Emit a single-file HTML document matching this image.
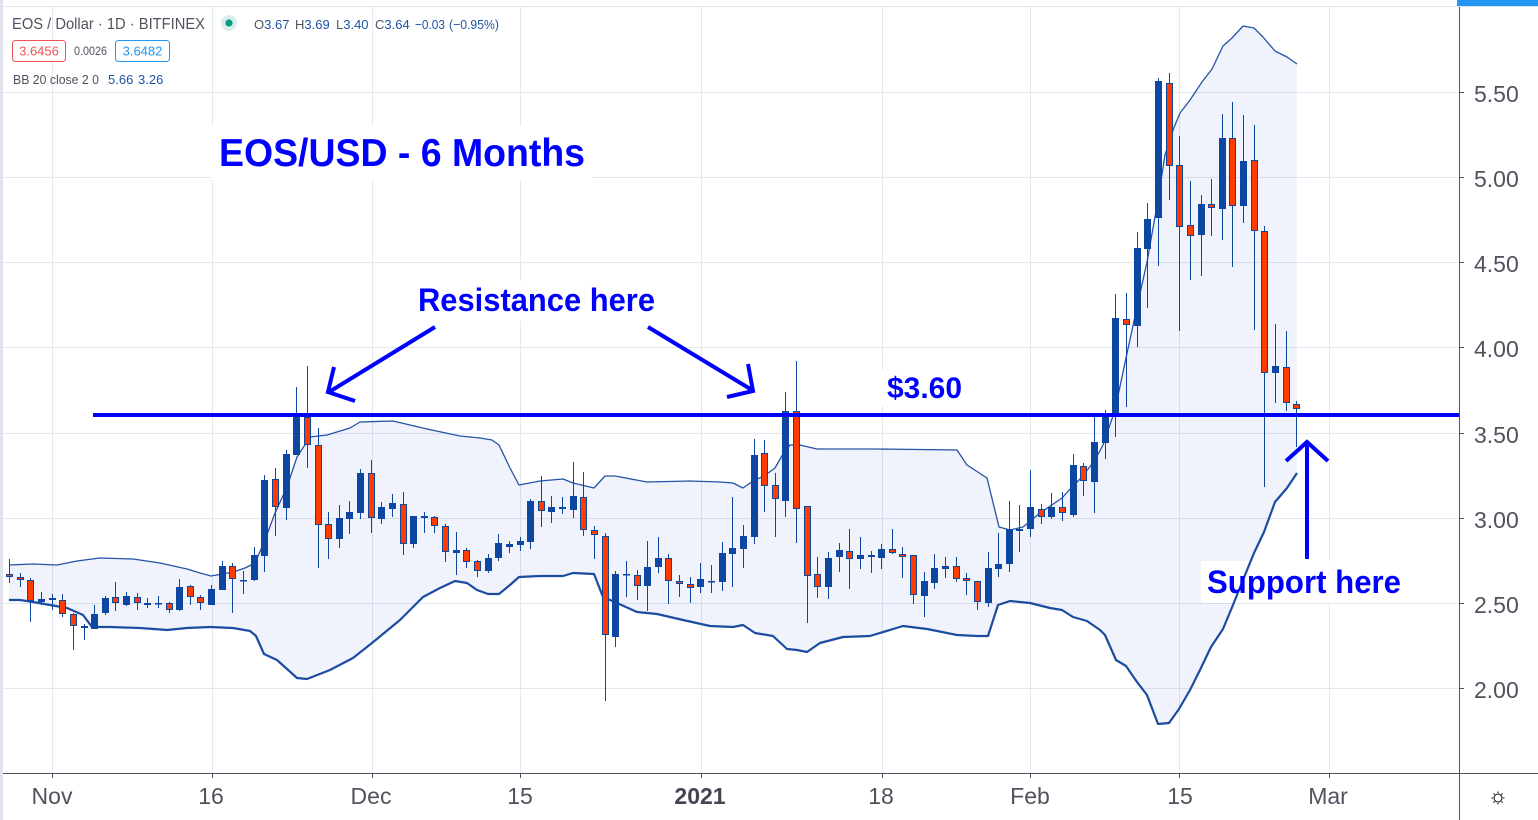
<!DOCTYPE html>
<html><head><meta charset="utf-8"><style>
html,body{margin:0;padding:0;background:#fff;}
svg{display:block;}
</style></head><body>
<svg width="1538" height="820" viewBox="0 0 1538 820" xmlns="http://www.w3.org/2000/svg" font-family="'Liberation Sans', sans-serif">
<rect x="0" y="0" width="1538" height="820" fill="#fff"/>
<rect x="0" y="0" width="3" height="820" fill="#e0e3eb"/>
<line x1="0" y1="6.5" x2="1538" y2="6.5" stroke="#e0e3eb" stroke-width="1"/>
<rect x="1457" y="0" width="81" height="6" fill="#2196f3"/>
<!-- grid -->
<g stroke="#e2e8f0" stroke-width="1">
<path d="M3 92.5H1459M3 177.5H1459M3 262.5H1459M3 347.5H1459M3 433.5H1459M3 518.5H1459M3 603.5H1459M3 688.5H1459"/>
<path d="M52.5 7V773M212.5 7V773M372.5 7V773M520.5 7V773M701.5 7V773M882.5 7V773M1030.5 7V773M1179.5 7V773M1329.5 7V773"/>
</g>
<!-- BB fill -->
<polygon fill="rgba(60,100,200,0.075)" points="9,565 33,564 57,565 77,561 100,558 133,559 160,563 187,569 200,573 211,576 233,572 245,568 255,563 265,540 275,513 287,487 297,457 310,437 327,435 350,428 360,422 393,421 427,429 460,436 480,438 492,440 499,445 510,468 519,485 540,481 563,479 573,483 594,488 605,476 615,476 647,482 690,481 720,482 733,483 743,488 753,481 764,476 775,468 783,454 790,445 800,445 817,449 877,449 957,450 967,465 987,478 999,527 1010,530 1023,527 1040,513 1062,498 1072,487 1082,477 1095,460 1103,445 1115,410 1126,358 1137,307 1147,262 1158,200 1165,155 1173,130 1180,113 1190,100 1202,82 1212,69 1223,46 1232,38 1243,26 1254,28 1263,37 1275,51 1287,57 1297,64 1297,473 1287,488 1275,502 1264,532 1254,553 1243,580 1233,605 1223,629 1211,647 1200,670 1190,690 1179,709 1169,723 1158,724 1147,695 1137,682 1126,666 1116,660 1105,635 1100,630 1087,621 1073,617 1062,610 1050,608 1030,603 1010,601 998,605 988,636 977,636 957,635 927,629 903,626 870,636 843,637 820,643 807,652 797,650 787,649 773,636 755,633 743,625 733,627 710,626 683,620 657,614 637,612 617,603 603,597 594,574 573,573 563,576 540,576 519,577 510,585 499,594 488,594 477,590 467,583 455,581 440,588 423,597 400,620 372,643 353,658 330,670 307,679 297,678 277,660 264,654 256,636 250,631 233,628 210,627 187,628 167,630 140,628 110,627 92,627 83,615 67,608 50,605 33,602 20,600 9,600"/>
<!-- annotation white boxes -->
<rect x="211" y="126" width="381" height="54" fill="#fff"/>
<rect x="411" y="281" width="251" height="40" fill="#fff"/>
<rect x="882" y="370" width="83" height="36" fill="#fff"/>
<rect x="1201" y="561" width="207" height="42" fill="#fff"/>
<!-- BB lines -->
<polyline fill="none" stroke="#2553a3" stroke-width="1.3" stroke-linejoin="round" points="9,565 33,564 57,565 77,561 100,558 133,559 160,563 187,569 200,573 211,576 233,572 245,568 255,563 265,540 275,513 287,487 297,457 310,437 327,435 350,428 360,422 393,421 427,429 460,436 480,438 492,440 499,445 510,468 519,485 540,481 563,479 573,483 594,488 605,476 615,476 647,482 690,481 720,482 733,483 743,488 753,481 764,476 775,468 783,454 790,445 800,445 817,449 877,449 957,450 967,465 987,478 999,527 1010,530 1023,527 1040,513 1062,498 1072,487 1082,477 1095,460 1103,445 1115,410 1126,358 1137,307 1147,262 1158,200 1165,155 1173,130 1180,113 1190,100 1202,82 1212,69 1223,46 1232,38 1243,26 1254,28 1263,37 1275,51 1287,57 1297,64"/>
<polyline fill="none" stroke="#1b4c9f" stroke-width="2.2" stroke-linejoin="round" points="9,600 20,600 33,602 50,605 67,608 83,615 92,627 110,627 140,628 167,630 187,628 210,627 233,628 250,631 256,636 264,654 277,660 297,678 307,679 330,670 353,658 372,643 400,620 423,597 440,588 455,581 467,583 477,590 488,594 499,594 510,585 519,577 540,576 563,576 573,573 594,574 603,597 617,603 637,612 657,614 683,620 710,626 733,627 743,625 755,633 773,636 787,649 797,650 807,652 820,643 843,637 870,636 903,626 927,629 957,635 977,636 988,636 998,605 1010,601 1030,603 1050,608 1062,610 1073,617 1087,621 1100,630 1105,635 1116,660 1126,666 1137,682 1147,695 1158,724 1169,723 1179,709 1190,690 1200,670 1211,647 1223,629 1233,605 1243,580 1254,553 1264,532 1275,502 1287,488 1297,473"/>
<!-- wicks -->
<path fill="none" stroke="#0d47a1" stroke-width="1" d="M9.5 559V583M20.5 573V587M30.5 578V622M41.5 592V605M52.5 594V610M62.5 594V617M73.5 613V650M84.5 624V640M94.5 605V629M105.5 596V615M115.5 582V611M126.5 592V606M137.5 593V610M147.5 598V608M158.5 596V608M169.5 602V613M179.5 579V611M190.5 585V605M200.5 595V610M211.5 585V605M222.5 561V590M232.5 563V613M243.5 571V594M254.5 547V581M264.5 475V572M275.5 468V536M286.5 450V520M296.5 387V455M307.5 366V468M318.5 428V568M328.5 512V559M339.5 505V548M349.5 501V534M360.5 469V519M371.5 460V533M381.5 502V524M392.5 494V517M403.5 492V555M413.5 516V548M424.5 512V533M434.5 516V533M445.5 524V562M456.5 532V575M466.5 548V568M477.5 560V577M488.5 554V573M498.5 534V561M509.5 541V553M520.5 537V551M530.5 499V549M541.5 476V527M551.5 496V523M562.5 497V514M573.5 462V518M583.5 472V536M594.5 526V559M605.5 533V701M615.5 571V647M626.5 561V597M637.5 570V600M647.5 541V611M658.5 537V573M668.5 554V604M679.5 575V597M690.5 577V603M700.5 563V593M711.5 565V593M722.5 542V591M732.5 497V587M743.5 525V568M754.5 439V544M764.5 440V512M775.5 473V537M785.5 392V517M796.5 361V543M807.5 506V623M817.5 557V598M828.5 552V599M839.5 543V572M849.5 529V589M860.5 537V569M871.5 551V573M881.5 544V569M892.5 529V554M902.5 547V578M913.5 555V604M924.5 572V617M934.5 554V589M945.5 557V578M956.5 557V582M966.5 573V595M977.5 581V610M988.5 552V607M998.5 533V577M1009.5 501V572M1019.5 505V552M1030.5 470V537M1041.5 504V524M1051.5 493V519M1062.5 492V521M1073.5 454V517M1083.5 463V496M1094.5 417V513M1105.5 410V459M1115.5 294V437M1126.5 293V407M1137.5 232V347M1147.5 203V308M1158.5 78V266M1169.5 73V200M1179.5 136V331M1190.5 181V280M1201.5 195V276M1211.5 179V236M1222.5 114V240M1232.5 102V267M1243.5 115V223M1254.5 125V330M1264.5 226V487M1275.5 324V403M1286.5 331V411M1296.5 401V447"/>
<!-- up bodies -->
<g fill="#0d47a1">
<rect x="38" y="599" width="7" height="3"/><rect x="91" y="614" width="7" height="15"/><rect x="102" y="598" width="7" height="15"/><rect x="123" y="596" width="7" height="9"/><rect x="144" y="603" width="7" height="2"/><rect x="155" y="603" width="7" height="1.5"/><rect x="176" y="587" width="7" height="23"/><rect x="208" y="589" width="7" height="16"/><rect x="219" y="566" width="7" height="24"/><rect x="240" y="580" width="7" height="1.5"/><rect x="251" y="555" width="7" height="25"/><rect x="261" y="480" width="7" height="76"/><rect x="283" y="454" width="7" height="54"/><rect x="293" y="417" width="7" height="38"/><rect x="336" y="518" width="7" height="21"/><rect x="346" y="512" width="7" height="7"/><rect x="357" y="473" width="7" height="40"/><rect x="378" y="507" width="7" height="12"/><rect x="389" y="503" width="7" height="6"/><rect x="410" y="516" width="7" height="28"/><rect x="453" y="550" width="7" height="3"/><rect x="485" y="558" width="7" height="13"/><rect x="495" y="543" width="7" height="15"/><rect x="506" y="544" width="7" height="3"/><rect x="517" y="541" width="7" height="4"/><rect x="527" y="501" width="7" height="41"/><rect x="548" y="507" width="7" height="5"/><rect x="570" y="496" width="7" height="14"/><rect x="612" y="574" width="7" height="63"/><rect x="623" y="574" width="7" height="1.5"/><rect x="644" y="567" width="7" height="19"/><rect x="655" y="558" width="7" height="9"/><rect x="697" y="579" width="7" height="8"/><rect x="708" y="581" width="7" height="1.5"/><rect x="719" y="553" width="7" height="29"/><rect x="729" y="548" width="7" height="6"/><rect x="740" y="536" width="7" height="13"/><rect x="751" y="455" width="7" height="82"/><rect x="782" y="411" width="7" height="90"/><rect x="825" y="558" width="7" height="29"/><rect x="836" y="550" width="7" height="7"/><rect x="857" y="555" width="7" height="4"/><rect x="878" y="549" width="7" height="9"/><rect x="921" y="581" width="7" height="15"/><rect x="931" y="568" width="7" height="15"/><rect x="942" y="566" width="7" height="3"/><rect x="985" y="568" width="7" height="35"/><rect x="995" y="564" width="7" height="5"/><rect x="1006" y="529" width="7" height="35"/><rect x="1016" y="529" width="7" height="2"/><rect x="1027" y="507" width="7" height="22"/><rect x="1048" y="507" width="7" height="10"/><rect x="1070" y="465" width="7" height="50"/><rect x="1091" y="442" width="7" height="40"/><rect x="1102" y="416" width="7" height="27"/><rect x="1112" y="318" width="7" height="97"/><rect x="1134" y="248" width="7" height="78"/><rect x="1144" y="219" width="7" height="30"/><rect x="1155" y="81" width="7" height="137"/><rect x="1198" y="204" width="7" height="31"/><rect x="1219" y="138" width="7" height="71"/><rect x="1240" y="161" width="7" height="45"/><rect x="1272" y="366" width="7" height="7"/>
</g>
<!-- down bodies -->
<g fill="#ff3b00" stroke="#0d47a1" stroke-width="1">
<rect x="6.5" y="574.5" width="6" height="2"/><rect x="17.5" y="577.5" width="6" height="2"/><rect x="27.5" y="580.5" width="6" height="20"/><rect x="49.5" y="598.5" width="6" height="1"/><rect x="59.5" y="600.5" width="6" height="13"/><rect x="70.5" y="614.5" width="6" height="11"/><rect x="81.5" y="626.5" width="6" height="1"/><rect x="112.5" y="597.5" width="6" height="5"/><rect x="134.5" y="597.5" width="6" height="5"/><rect x="166.5" y="603.5" width="6" height="6"/><rect x="187.5" y="586.5" width="6" height="10"/><rect x="197.5" y="597.5" width="6" height="5"/><rect x="229.5" y="566.5" width="6" height="12"/><rect x="272.5" y="479.5" width="6" height="27"/><rect x="304.5" y="417.5" width="6" height="27"/><rect x="315.5" y="445.5" width="6" height="79"/><rect x="325.5" y="524.5" width="6" height="14"/><rect x="368.5" y="473.5" width="6" height="44"/><rect x="400.5" y="504.5" width="6" height="39"/><rect x="421.5" y="516.5" width="6" height="1"/><rect x="431.5" y="517.5" width="6" height="8"/><rect x="442.5" y="526.5" width="6" height="25"/><rect x="463.5" y="550.5" width="6" height="11"/><rect x="474.5" y="561.5" width="6" height="9"/><rect x="538.5" y="501.5" width="6" height="9"/><rect x="559.5" y="507.5" width="6" height="1"/><rect x="580.5" y="497.5" width="6" height="32"/><rect x="591.5" y="530.5" width="6" height="4"/><rect x="602.5" y="536.5" width="6" height="98"/><rect x="634.5" y="575.5" width="6" height="10"/><rect x="665.5" y="558.5" width="6" height="22"/><rect x="676.5" y="581.5" width="6" height="2"/><rect x="687.5" y="584.5" width="6" height="3"/><rect x="761.5" y="453.5" width="6" height="32"/><rect x="772.5" y="485.5" width="6" height="13"/><rect x="793.5" y="411.5" width="6" height="97"/><rect x="804.5" y="506.5" width="6" height="69"/><rect x="814.5" y="574.5" width="6" height="12"/><rect x="846.5" y="551.5" width="6" height="7"/><rect x="868.5" y="555.5" width="6" height="1"/><rect x="889.5" y="549.5" width="6" height="3"/><rect x="899.5" y="554.5" width="6" height="2"/><rect x="910.5" y="555.5" width="6" height="39"/><rect x="953.5" y="566.5" width="6" height="12"/><rect x="963.5" y="578.5" width="6" height="2"/><rect x="974.5" y="581.5" width="6" height="20"/><rect x="1038.5" y="509.5" width="6" height="7"/><rect x="1059.5" y="507.5" width="6" height="5"/><rect x="1080.5" y="466.5" width="6" height="14"/><rect x="1123.5" y="319.5" width="6" height="5"/><rect x="1166.5" y="83.5" width="6" height="82"/><rect x="1176.5" y="165.5" width="6" height="61"/><rect x="1187.5" y="225.5" width="6" height="10"/><rect x="1208.5" y="204.5" width="6" height="3"/><rect x="1229.5" y="138.5" width="6" height="67"/><rect x="1251.5" y="160.5" width="6" height="70"/><rect x="1261.5" y="231.5" width="6" height="141"/><rect x="1283.5" y="367.5" width="6" height="35"/><rect x="1293.5" y="404.5" width="6" height="4"/>
</g>
<!-- resistance line -->
<line x1="93" y1="415" x2="1460" y2="415" stroke="#0000ff" stroke-width="4"/>
<!-- arrows -->
<g fill="none" stroke="#0000ff" stroke-width="4" stroke-linejoin="miter">
<path d="M435 327L329 392"/>
<path d="M334 367L328 392L355 401"/>
<path d="M648 327L752 390"/>
<path d="M748 364L753 391L727 397"/>
<path d="M1307 444V559"/>
<path d="M1286 461L1307 442L1328 461"/>
</g>
<!-- annotation text -->
<g fill="#0000ff" font-weight="bold">
<text x="219" y="166" font-size="39" textLength="366" lengthAdjust="spacingAndGlyphs">EOS/USD - 6 Months</text>
<text x="418" y="311" font-size="32" textLength="237" lengthAdjust="spacingAndGlyphs">Resistance here</text>
<text x="887" y="398" font-size="30" textLength="75" lengthAdjust="spacingAndGlyphs">$3.60</text>
<text x="1207" y="593" font-size="32" textLength="194" lengthAdjust="spacingAndGlyphs">Support here</text>
</g>
<!-- axes -->
<line x1="1459.5" y1="7" x2="1459.5" y2="820" stroke="#50535e" stroke-width="1"/>
<line x1="3" y1="773.5" x2="1538" y2="773.5" stroke="#50535e" stroke-width="1"/>
<path stroke="#50535e" stroke-width="1" d="M1459 92.5H1464M1459 177.5H1464M1459 262.5H1464M1459 347.5H1464M1459 433.5H1464M1459 518.5H1464M1459 603.5H1464M1459 688.5H1464M52.5 773V778M212.5 773V778M372.5 773V778M520.5 773V778M701.5 773V778M882.5 773V778M1030.5 773V778M1179.5 773V778M1329.5 773V778"/>
<g fill="#50535e" font-size="23">
<text x="1474" y="102">5.50</text>
<text x="1474" y="187">5.00</text>
<text x="1474" y="272">4.50</text>
<text x="1474" y="357">4.00</text>
<text x="1474" y="443">3.50</text>
<text x="1474" y="528">3.00</text>
<text x="1474" y="613">2.50</text>
<text x="1474" y="698">2.00</text>
</g>
<g fill="#50535e" font-size="23" text-anchor="middle">
<text x="52" y="804">Nov</text>
<text x="211" y="804">16</text>
<text x="371" y="804">Dec</text>
<text x="520" y="804">15</text>
<text x="700" y="804" font-weight="bold" fill="#434651">2021</text>
<text x="881" y="804">18</text>
<text x="1030" y="804">Feb</text>
<text x="1180" y="804">15</text>
<text x="1328" y="804">Mar</text>
</g>
<!-- gear icon -->
<g stroke="#131722" stroke-width="1.1" fill="none">
<circle cx="1498" cy="798" r="4"/>
<path d="M1498 791.5V793M1498 803V804.5M1491.5 798H1493M1503 798H1504.5M1493.4 793.4L1494.5 794.5M1501.5 801.5L1502.6 802.6M1502.6 793.4L1501.5 794.5M1494.5 801.5L1493.4 802.6"/>
</g>
<!-- legend -->
<text x="12" y="29" font-size="15.5" fill="#50535e" textLength="193" lengthAdjust="spacingAndGlyphs">EOS / Dollar · 1D · BITFINEX</text>
<circle cx="229" cy="23" r="8" fill="#d9eeea"/>
<circle cx="229" cy="23" r="3.6" fill="#089981"/>
<g font-size="13" fill="#1e53a5">
<text x="254" y="29"><tspan fill="#50535e">O</tspan>3.67</text>
<text x="295" y="29"><tspan fill="#50535e">H</tspan>3.69</text>
<text x="336" y="29"><tspan fill="#50535e">L</tspan>3.40</text>
<text x="375" y="29"><tspan fill="#50535e">C</tspan>3.64</text>
<text x="415" y="29" textLength="30" lengthAdjust="spacingAndGlyphs">−0.03</text>
<text x="449" y="29" textLength="50" lengthAdjust="spacingAndGlyphs">(−0.95%)</text>
</g>
<rect x="12.5" y="40.5" width="53" height="21" rx="3" fill="#fff" stroke="#ef5350" stroke-width="1"/>
<text x="39" y="55.5" font-size="13" fill="#ef5350" text-anchor="middle">3.6456</text>
<text x="74" y="55" font-size="11.5" fill="#50535e" textLength="33" lengthAdjust="spacingAndGlyphs">0.0026</text>
<rect x="115.5" y="40.5" width="54" height="21" rx="3" fill="#fff" stroke="#2196f3" stroke-width="1"/>
<text x="142.5" y="55.5" font-size="13" fill="#2196f3" text-anchor="middle">3.6482</text>
<text x="13" y="84" font-size="12.5" fill="#50535e" textLength="86" lengthAdjust="spacingAndGlyphs">BB 20 close 2 0</text>
<text x="108" y="84" font-size="13" fill="#1e53a5">5.66</text>
<text x="138" y="84" font-size="13" fill="#1e53a5">3.26</text>
</svg>
</body></html>
